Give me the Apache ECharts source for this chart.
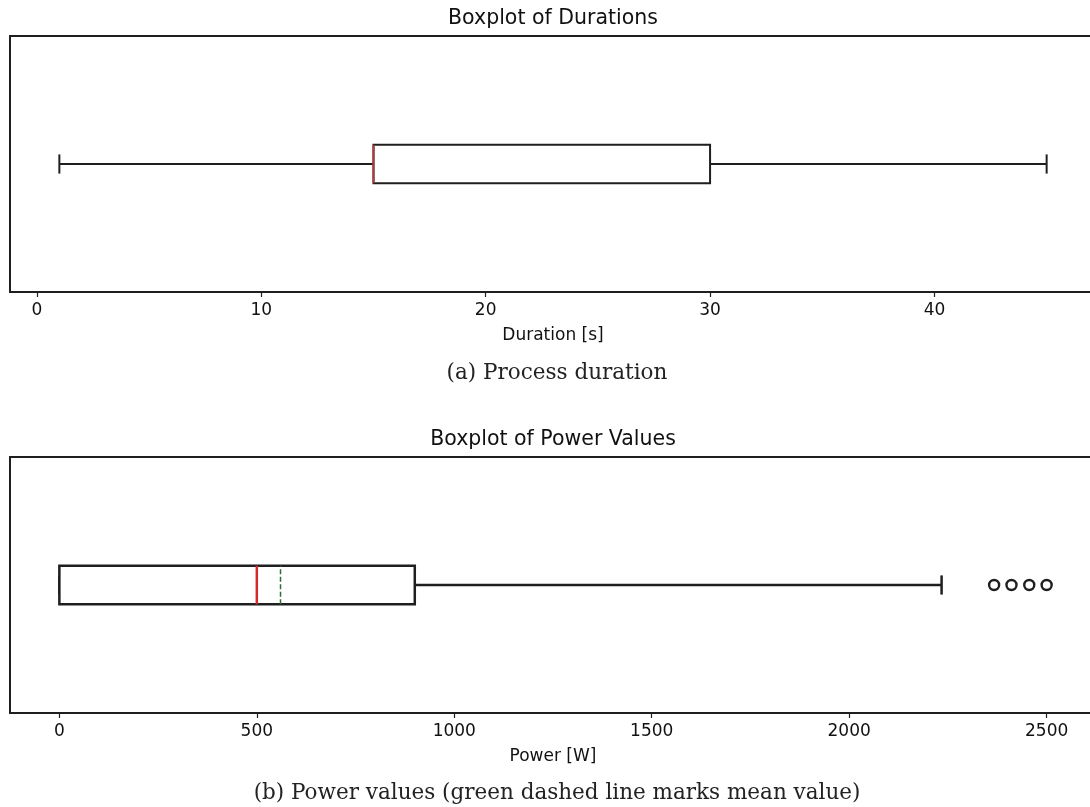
<!DOCTYPE html>
<html>
<head>
<meta charset="utf-8">
<title>Boxplots of process duration and power values</title>
<script src="https://cdn.jsdelivr.net/npm/echarts@6/dist/echarts.min.js"></script>
<style>
  html, body { margin: 0; padding: 0; background: #ffffff; }
  #chart { width: 1090px; height: 807px; }
</style>
</head>
<body>
<div id="chart"></div>
<script>
// Five-number summaries: [lower whisker, Q1, median, Q3, upper whisker]
const durationStats = [1, 15, 15, 30, 45];
const powerStats = [0, 0, 500, 900, 2234];
const powerMean = 560;
const powerOutliers = [2367, 2411, 2456, 2500];

const durationTicks = [0, 10, 20, 30, 40];
const powerTicks = [0, 500, 1000, 1500, 2000, 2500];

const durationRange = [-1.2, 47.2];
const powerRange = [-125, 2625];

const INK = '#1f1f1f';
const SANS = 'DejaVu Sans';
const SERIF = 'DejaVu Serif';

// Draws one horizontal box with whiskers, caps, median and an optional mean line.
function boxRenderer(lineWidth, medianColor, showMean) {
  return function (params, api) {
    const lo = api.value(0), q1 = api.value(1), med = api.value(2), q3 = api.value(3), hi = api.value(4);
    const mean = api.value(5);
    const yc = 1, half = 0.075, capHalf = 0.0375;
    const p = (x, y) => api.coord([x, y]);
    const line = (a, b, style) => ({
      type: 'line',
      shape: { x1: a[0], y1: a[1], x2: b[0], y2: b[1] },
      style: Object.assign({ stroke: INK, lineWidth: lineWidth }, style || {})
    });
    const children = [];
    // whiskers
    if (lo < q1) children.push(line(p(lo, yc), p(q1, yc)));
    if (hi > q3) children.push(line(p(q3, yc), p(hi, yc)));
    // caps
    children.push(line(p(lo, yc - capHalf), p(lo, yc + capHalf)));
    children.push(line(p(hi, yc - capHalf), p(hi, yc + capHalf)));
    // box
    const tl = p(q1, yc + half), br = p(q3, yc - half);
    children.push({
      type: 'rect',
      shape: { x: tl[0], y: tl[1], width: br[0] - tl[0], height: br[1] - tl[1] },
      style: { fill: '#ffffff', stroke: INK, lineWidth: lineWidth }
    });
    // median
    children.push(line(p(med, yc - half), p(med, yc + half), { stroke: medianColor, lineWidth: lineWidth }));
    // mean
    if (showMean) {
      children.push(line(p(mean, yc - half), p(mean, yc + half),
        { stroke: '#2e6b3c', lineWidth: 1.5, lineDash: [5, 2.5] }));
    }
    return { type: 'group', children: children };
  };
}

function valueAxis(gridIndex, range, ticks, name) {
  return {
    type: 'value',
    gridIndex: gridIndex,
    min: range[0],
    max: range[1],
    splitLine: { show: false },
    axisLine: { show: false },
    axisTick: { show: true, customValues: ticks, length: 5, lineStyle: { color: INK, width: 1.2 } },
    axisLabel: {
      customValues: ticks, margin: 10, color: '#111', fontFamily: SANS, fontSize: 17,
      formatter: v => String(v)
    },
    name: name,
    nameLocation: 'middle',
    nameGap: 35,
    nameTextStyle: { color: '#111', fontFamily: SANS, fontSize: 17 }
  };
}

function hiddenAxis(gridIndex) {
  return {
    type: 'value', gridIndex: gridIndex, min: 0.5, max: 1.5,
    show: false, splitLine: { show: false }
  };
}

const chart = echarts.init(document.getElementById('chart'), null, { renderer: 'canvas' });

const gridBase = {
  left: 10, width: 1086, height: 256, show: true,
  borderColor: INK, borderWidth: 2, backgroundColor: 'transparent',
  containLabel: false, outerBoundsMode: 'none'
};

chart.setOption({
  animation: false,
  backgroundColor: '#ffffff',
  grid: [
    Object.assign({ top: 36 }, gridBase),
    Object.assign({ top: 457 }, gridBase)
  ],
  xAxis: [
    valueAxis(0, durationRange, durationTicks, 'Duration [s]'),
    valueAxis(1, powerRange, powerTicks, 'Power [W]')
  ],
  yAxis: [hiddenAxis(0), hiddenAxis(1)],
  series: [
    {
      type: 'custom', xAxisIndex: 0, yAxisIndex: 0,
      renderItem: boxRenderer(2, '#b03a3a', false),
      data: [durationStats]
    },
    {
      type: 'custom', xAxisIndex: 1, yAxisIndex: 1,
      renderItem: boxRenderer(2.5, '#d42a2a', true),
      data: [powerStats.concat([powerMean])]
    },
    {
      type: 'scatter', xAxisIndex: 1, yAxisIndex: 1,
      symbol: 'circle', symbolSize: 10,
      itemStyle: { color: '#ffffff', borderColor: INK, borderWidth: 2.4, opacity: 1 },
      data: powerOutliers.map(v => [v, 1])
    }
  ],
  graphic: [
    { type: 'text', x: 553, y: 19, style: { text: 'Boxplot of Durations', font: '20.5px "' + SANS + '"', fill: '#111', align: 'center', verticalAlign: 'middle' } },
    { type: 'text', x: 553, y: 440, style: { text: 'Boxplot of Power Values', font: '20.5px "' + SANS + '"', fill: '#111', align: 'center', verticalAlign: 'middle' } },
    { type: 'text', x: 557, y: 373, style: { text: '(a) Process duration', font: '21.5px "' + SERIF + '"', fill: '#222', align: 'center', verticalAlign: 'middle' } },
    { type: 'text', x: 557, y: 793, style: { text: '(b) Power values (green dashed line marks mean value)', font: '21.5px "' + SERIF + '"', fill: '#222', align: 'center', verticalAlign: 'middle' } }
  ]
});
</script>
</body>
</html>
